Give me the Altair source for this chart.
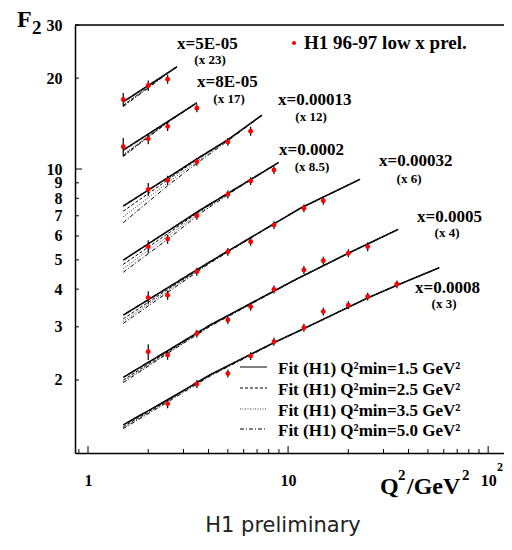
import altair as alt
import pandas as pd

# ---------------- data ----------------
bins = ["5E-05", "8E-05", "0.00013", "0.0002", "0.00032", "0.0005", "0.0008"]
scales = ["23", "17", "12", "8.5", "6", "4", "3"]

# measured points (Q2 in GeV^2, scaled F2, relative error in %)
pt_q2 = {
    "5E-05": [1.5, 2.0, 2.5],
    "8E-05": [1.5, 2.0, 2.5, 3.5],
    "0.00013": [2.0, 2.5, 3.5, 5.0, 6.5],
    "0.0002": [2.0, 2.5, 3.5, 5.0, 6.5, 8.5],
    "0.00032": [2.0, 2.5, 3.5, 5.0, 6.5, 8.5, 12.0, 15.0],
    "0.0005": [2.0, 2.5, 3.5, 5.0, 6.5, 8.5, 12.0, 15.0, 20.0, 25.0],
    "0.0008": [2.5, 3.5, 5.0, 6.5, 8.5, 12.0, 15.0, 20.0, 25.0, 35.0],
}
pt_f2 = {
    "5E-05": [17.0, 18.9, 19.85],
    "8E-05": [11.85, 12.59, 13.84, 15.91],
    "0.00013": [8.56, 9.17, 10.57, 12.30, 13.35],
    "0.0002": [5.53, 5.86, 7.00, 8.24, 9.12, 9.92],
    "0.00032": [3.75, 3.82, 4.57, 5.32, 5.74, 6.52, 7.41, 7.85],
    "0.0005": [2.48, 2.42, 2.85, 3.16, 3.50, 3.99, 4.63, 4.97, 5.26, 5.53],
    "0.0008": [1.67, 1.94, 2.10, 2.40, 2.68, 2.98, 3.37, 3.54, 3.78, 4.15],
}
pt_err = {
    "5E-05": [5, 4, 3.5],
    "8E-05": [7, 4, 3.5, 3],
    "0.00013": [5, 3.5, 3, 3, 3.5],
    "0.0002": [5, 3.5, 3, 3, 3, 3],
    "0.00032": [5, 3.5, 3, 3, 3, 3, 3, 3],
    "0.0005": [6, 3.5, 3, 3, 3, 3, 3, 3, 3, 3.5],
    "0.0008": [3.5, 3, 3, 3, 3, 3, 3, 3, 3, 3],
}

# fit curves read at a few Q2 nodes
fit_q2 = {
    "5E-05": [1.5, 2.0, 2.5, 2.78],
    "8E-05": [1.5, 2.0, 2.5, 3.5],
    "0.00013": [1.5, 2.5, 3.5, 5.0, 7.4],
    "0.0002": [1.5, 2.5, 3.63, 5.5, 8.95],
    "0.00032": [1.5, 2.5, 4.07, 7.0, 11.5, 22.9],
    "0.0005": [1.5, 2.5, 4.07, 10.8, 20.0, 35.5],
    "0.0008": [1.5, 2.5, 4.07, 8.5, 12.0, 25.0, 35.0, 57.0],
}
fit_15 = {
    "5E-05": [16.7, 18.9, 20.8, 21.8],
    "8E-05": [11.55, 13.05, 14.35, 16.57],
    "0.00013": [7.54, 9.35, 10.8, 12.5, 15.08],
    "0.0002": [4.99, 6.22, 7.31, 8.63, 10.5],
    "0.00032": [3.28, 4.04, 4.93, 6.1, 7.41, 9.25],
    "0.0005": [2.04, 2.50, 3.04, 4.29, 5.26, 6.31],
    "0.0008": [1.42, 1.72, 2.08, 2.66, 2.96, 3.74, 4.12, 4.71],
}
fit_25 = {
    "5E-05": [16.25, 18.65, 20.8, 21.8],
    "8E-05": [11.1, 12.8, 14.3, 16.57],
    "0.00013": [7.25, 9.2, 10.75, 12.5, 15.08],
    "0.0002": [4.83, 6.1, 7.26, 8.62, 10.5],
    "0.00032": [3.19, 3.99, 4.91, 6.1, 7.41, 9.25],
    "0.0005": [2.00, 2.48, 3.03, 4.29, 5.26, 6.31],
    "0.0008": [1.40, 1.71, 2.08, 2.66, 2.96, 3.74, 4.12, 4.71],
}
fit_35 = {
    "5E-05": [16.35, 18.7, 20.8, 21.8],
    "8E-05": [11.2, 12.85, 14.3, 16.57],
    "0.00013": [6.95, 9.0, 10.6, 12.45, 15.08],
    "0.0002": [4.68, 5.98, 7.2, 8.6, 10.5],
    "0.00032": [3.13, 3.95, 4.9, 6.1, 7.41, 9.25],
    "0.0005": [1.98, 2.46, 3.02, 4.29, 5.26, 6.31],
    "0.0008": [1.39, 1.70, 2.07, 2.66, 2.96, 3.74, 4.12, 4.71],
}
fit_50 = {
    "5E-05": [16.1, 18.55, 20.75, 21.8],
    "8E-05": [11.0, 12.75, 14.25, 16.55],
    "0.00013": [6.64, 8.8, 10.45, 12.4, 15.05],
    "0.0002": [4.55, 5.85, 7.12, 8.57, 10.5],
    "0.00032": [3.08, 3.9, 4.88, 6.08, 7.41, 9.25],
    "0.0005": [1.96, 2.45, 3.01, 4.28, 5.26, 6.31],
    "0.0008": [1.38, 1.69, 2.06, 2.65, 2.96, 3.74, 4.12, 4.71],
}
fit_names = ["1.5", "2.5", "3.5", "5.0"]
fit_sets = [fit_15, fit_25, fit_35, fit_50]

y_labels = [2, 3, 4, 5, 6, 7, 8, 9, 10, 20, 30]
x_labels = [1, 10, 100]
x_minor = [0.9, 2, 3, 4, 5, 6, 7, 8, 9, 20, 30, 40, 50, 60, 70, 80, 90]
y_minor = [2, 3, 4, 5, 6, 7, 8, 9, 20, 30]
y_major = [10]

# ---------------- tables ----------------
rows = []
for b in bins:
    for q, f, e in zip(pt_q2[b], pt_f2[b], pt_err[b]):
        rows.append({"bin": b, "Q2": q, "F2": f,
                     "lo": f * (1 - e / 100), "hi": f * (1 + e / 100)})
pts = pd.DataFrame(rows)

frows = []
for name, fs in zip(fit_names, fit_sets):
    for b in bins:
        for q, f in zip(fit_q2[b], fs[b]):
            frows.append({"bin": b, "fit": name, "Q2": q, "F2": f})
fits = pd.DataFrame(frows)

W, H = 429, 428
SERIF = "Liberation Serif"

xs = alt.Scale(type="log", domain=[0.861, 120], nice=False)
ys = alt.Scale(type="log", domain=[1.146, 30], nice=False)

common = dict(title=None, grid=False, ticks=False, tickSize=0,
              domainColor="black", domainWidth=1.5,
              labelFont=SERIF, labelFontWeight="bold", labelFontSize=16,
              labelColor="black", labelOverlap=False, labelFlush=False)
x_axis = alt.Axis(values=x_labels, labelExpr="datum.value < 5 ? '1' : '10'",
                  labelBaseline="top", labelPadding=19, **common)
y_axis = alt.Axis(values=y_labels, format="d", labelBaseline="middle",
                  labelPadding=13, **common)


def X(field):
    return alt.X(field, type="quantitative", scale=xs, axis=x_axis)


def Y(field):
    return alt.Y(field, type="quantitative", scale=ys, axis=y_axis)


one = pd.DataFrame({"k": [0]})


def txt(s, x, y, size, weight="bold", align="left", font=SERIF, color="black"):
    return alt.Chart(one).mark_text(
        text=s, align=align, baseline="alphabetic", font=font,
        fontSize=size, fontWeight=weight, color=color
    ).encode(x=alt.value(x), y=alt.value(y))


layers = []

# error bars
layers.append(alt.Chart(pts).mark_rule(color="black", strokeWidth=1.2).encode(
    x=X("Q2"), y=Y("lo"), y2="hi"))

# fit lines
dashes = {"1.5": [1, 0], "2.5": [3, 2], "3.5": [1, 1.5], "5.0": [4, 2, 1, 2]}
widths = {"1.5": 1.6, "2.5": 1.0, "3.5": 1.0, "5.0": 1.0}
colors = {"1.5": "black", "2.5": "black", "3.5": "#444", "5.0": "black"}
for name in fit_names:
    layers.append(alt.Chart(fits).transform_filter(
        alt.datum.fit == name).mark_line(
        color=colors[name], strokeWidth=widths[name],
        strokeDash=dashes[name]).encode(
        x=X("Q2"), y=Y("F2"), detail="bin:N"))

# points
layers.append(alt.Chart(pts).mark_circle(color="#ff0000", size=24, opacity=1).encode(
    x=X("Q2"), y=Y("F2")))

# inward ticks
layers.append(alt.Chart(pd.DataFrame({"v": x_minor})).mark_rule(
    color="black", strokeWidth=1).encode(x=X("v"), y=alt.value(H), y2=alt.value(H - 4)))
layers.append(alt.Chart(pd.DataFrame({"v": x_labels})).mark_rule(
    color="black", strokeWidth=1).encode(x=X("v"), y=alt.value(H), y2=alt.value(H - 7)))
layers.append(alt.Chart(pd.DataFrame({"v": y_minor})).mark_rule(
    color="black", strokeWidth=1).encode(y=Y("v"), x=alt.value(0), x2=alt.value(4)))
layers.append(alt.Chart(pd.DataFrame({"v": y_major})).mark_rule(
    color="black", strokeWidth=1).encode(y=Y("v"), x=alt.value(0), x2=alt.value(7)))

# top frame line
layers.append(alt.Chart(one).mark_rule(color="black", strokeWidth=1.5).encode(
    x=alt.value(0), x2=alt.value(W), y=alt.value(0)))

# bin labels
label_pos = [
    (102, 24, 135, 39),
    (122, 62, 154, 78),
    (203, 80, 236, 96),
    (204, 130, 237, 146),
    (304, 141, 334, 158),
    (342, 197, 372, 212),
    (340, 268, 369, 283),
]
for b, s, (lx, ly, sx, sy) in zip(bins, scales, label_pos):
    layers.append(txt(f"x={b}", lx, ly, 17))
    layers.append(txt(f"(x {s})", sx, sy, 13, align="center"))

# data legend
layers.append(alt.Chart(one).mark_circle(color="#ff0000", size=18, opacity=1).encode(
    x=alt.value(219), y=alt.value(18)))
layers.append(txt("H1 96-97 low x prel.", 229, 24, 19))

# fit legend
leg_y = [342, 363, 384, 404]
for name, ly in zip(fit_names, leg_y):
    layers.append(alt.Chart(one).mark_rule(
        color=colors[name], strokeWidth=1.2 if name == "1.5" else 1,
        strokeDash=dashes[name]).encode(
        x=alt.value(165), x2=alt.value(192), y=alt.value(ly)))
    layers.append(txt(f"Fit (H1) Q²min={name} GeV²", 203, ly + 7, 17))

# axis titles
layers.append(txt("F", -58, 2, 24))
layers.append(txt("2", -43, 9, 19))
layers.append(txt("Q", 305, 469, 24))
layers.append(txt("2", 323, 455, 15))
layers.append(txt("/GeV", 332, 469, 24))
layers.append(txt("2", 387, 455, 15))
layers.append(txt("2", 422, 446, 12))

# footer
layers.append(txt("H1 preliminary", 208, 507, 21, weight="normal",
                  align="center", font="DejaVu Sans", color="#222"))

chart = alt.layer(*layers).properties(
    width=W, height=H, autosize="none",
    padding={"left": 67, "top": 17, "right": 0, "bottom": 85},
).configure_view(stroke=None).configure(background="white")

chart.save("out.html", embed_options={"renderer": "svg", "actions": False})
